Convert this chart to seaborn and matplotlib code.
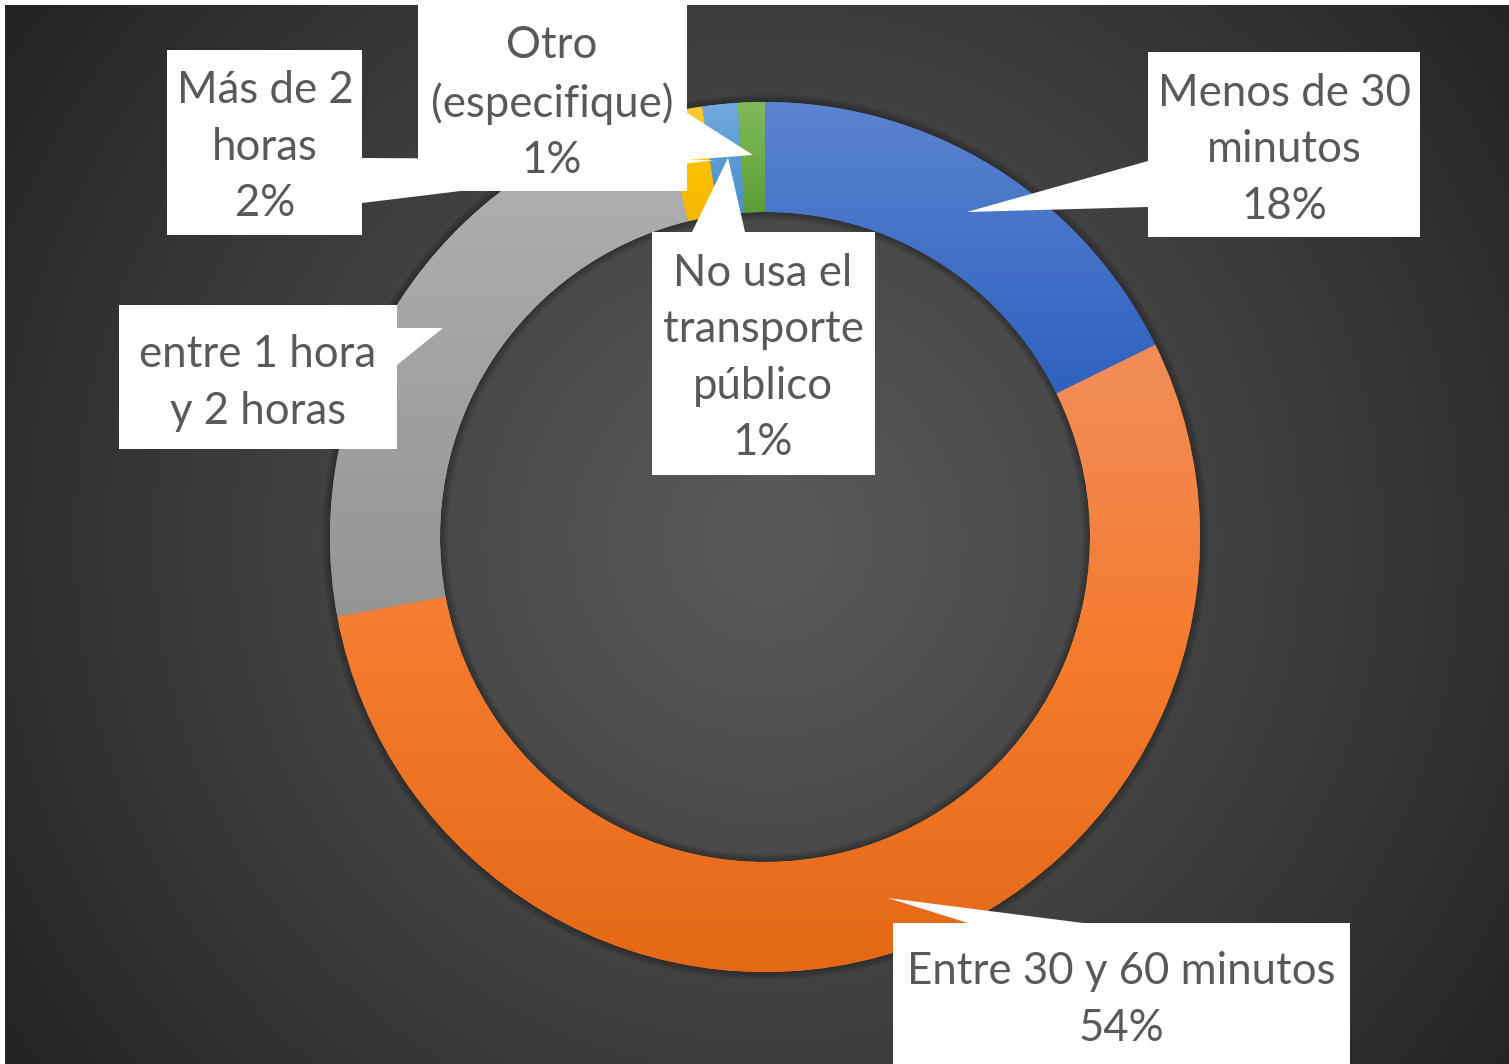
import numpy as np
import matplotlib
matplotlib.use("Agg")
import matplotlib.pyplot as plt
import seaborn as sns
from matplotlib.colors import to_rgb
from matplotlib.patches import Polygon, Rectangle, Wedge

# ---------------- data ----------------
categories = ["Menos de 30 minutos", "Entre 30 y 60 minutos", "entre 1 hora y 2 horas",
              "Más de 2 horas", "No usa el transporte público", "Otro (especifique)"]
values = [17.7, 54.3, 24.1, 1.5, 1.3, 1.0]
label_text = ["Menos de 30\nminutos", "Entre 30 y 60 minutos", "entre 1 hora\ny 2 horas",
              "Más de 2\nhoras", "No usa el\ntransporte\npúblico", "Otro\n(especifique)"]
show_pct = [True, True, False, True, True, True]
top_colors = ["#5B84CF", "#F28E5A", "#B2B2B2", "#FFC93E", "#74AADF", "#80B95D"]
mid_colors = ["#4472C8", "#F57B2D", "#A3A3A3", "#FFC000", "#5B9BD5", "#70AD47"]
bottom_colors = ["#2F62BE", "#E46816", "#959595", "#F2B800", "#4A8FD0", "#5C9C37"]

# ---------------- style ----------------
sns.set_theme(style="dark")
plt.rcParams['font.family'] = ['Lato', 'DejaVu Sans']

W, H = 1509, 1064
fig = plt.figure(figsize=(W / 100, H / 100), dpi=100, facecolor="white")
ax = fig.add_axes([0, 0, 1, 1])
ax.set_facecolor("white")


def P(x, y):
    return (x, H - y)


# background radial gradient
cx, cy = 765, 537
yy, xx = np.mgrid[0:H, 0:W]
r = np.sqrt((xx - cx) ** 2 + (yy - cy) ** 2)
t = np.clip(r / 930.0, 0, 1) ** 1.1
c0 = np.array(to_rgb("#5A5A5A"))
c1 = np.array(to_rgb("#232323"))
bg = c0[None, None, :] * (1 - t[..., None]) + c1[None, None, :] * t[..., None]
ax.imshow(bg, extent=(5, W, 0, H - 5), origin="upper", aspect="auto", zorder=0)

# soft shadow around the ring
R_out, ring_w = 435, 110
for i in range(1, 9):
    ax.add_patch(Wedge(P(cx, cy), R_out + i, 0, 360, width=ring_w + 2 * i,
                       facecolor="black", alpha=0.035, edgecolor="none", zorder=1))

wedges, _ = ax.pie(values, startangle=90, counterclock=False, radius=R_out,
                   center=P(cx, cy), colors=sns.color_palette(mid_colors),
                   wedgeprops=dict(width=ring_w, edgecolor="none"))
for w in wedges:
    w.set_zorder(2)

# vertical 3-stop gradient fill for each slice
for w, ct, cm, cb in zip(wedges, top_colors, mid_colors, bottom_colors):
    ext = w.get_path().get_extents()
    n = 256
    s = np.linspace(0, 1, n)
    stops = np.array([to_rgb(cb), to_rgb(cm), to_rgb(ct)])
    grad = np.stack([np.interp(s, [0, 0.5, 1], stops[:, k]) for k in range(3)], axis=-1)
    grad = grad[:, None, :]
    im = ax.imshow(grad, extent=(ext.x0, ext.x1, ext.y0, ext.y1), origin="lower",
                   aspect="auto", zorder=3)
    im.set_clip_path(w)

# ---------------- data labels (callouts) ----------------
labels = []
for txt, v, sp in zip(label_text, values, show_pct):
    pct = 100 * v / sum(values)
    labels.append(f"{txt}\n{int(round(pct))}%" if sp else txt)

# layout: box (x0, y0, x1, y1), pointer polygon, in pixel coords
boxes = [
    (1148, 52, 1420, 237),
    (893, 923, 1350, 1080),
    (119, 305, 397, 449),
    (167, 50, 362, 235),
    (652, 232, 875, 475),
    (418, 5, 687, 191),
]
pointers = [
    [(1148, 161), (967, 212), (1148, 207)],
    [(968, 923), (888, 898), (1083, 923)],
    [(397, 328), (443, 328), (397, 365)],
    [(362, 158), (715, 160), (362, 203)],
    [(692, 232), (728, 158), (745, 232)],
    [(687, 113), (753, 155), (687, 160)],
]
text_centers = [
    (1284, 150),
    (1121, 1000),
    (258, 383),
    (265, 147),
    (763, 358),
    (552, 103),
]

z = 5
for lab, (x0, y0, x1, y1), poly, (tx, ty) in zip(labels, boxes, pointers, text_centers):
    ax.add_patch(Polygon([P(*p) for p in poly], closed=True, facecolor="white",
                         edgecolor="none", zorder=z))
    ax.add_patch(Rectangle(P(x0, y1), x1 - x0, y1 - y0, facecolor="white",
                           edgecolor="none", zorder=z))
    ax.text(*P(tx, ty), lab, ha="center", va="center", multialignment="center",
            fontsize=31.5, color="#595959", linespacing=1.47, zorder=z + 0.5)
    z += 1

ax.set_xlim(0, W)
ax.set_ylim(0, H)
ax.set_aspect("auto")
ax.axis("off")
fig.savefig("out.png", dpi=100, facecolor="white")
